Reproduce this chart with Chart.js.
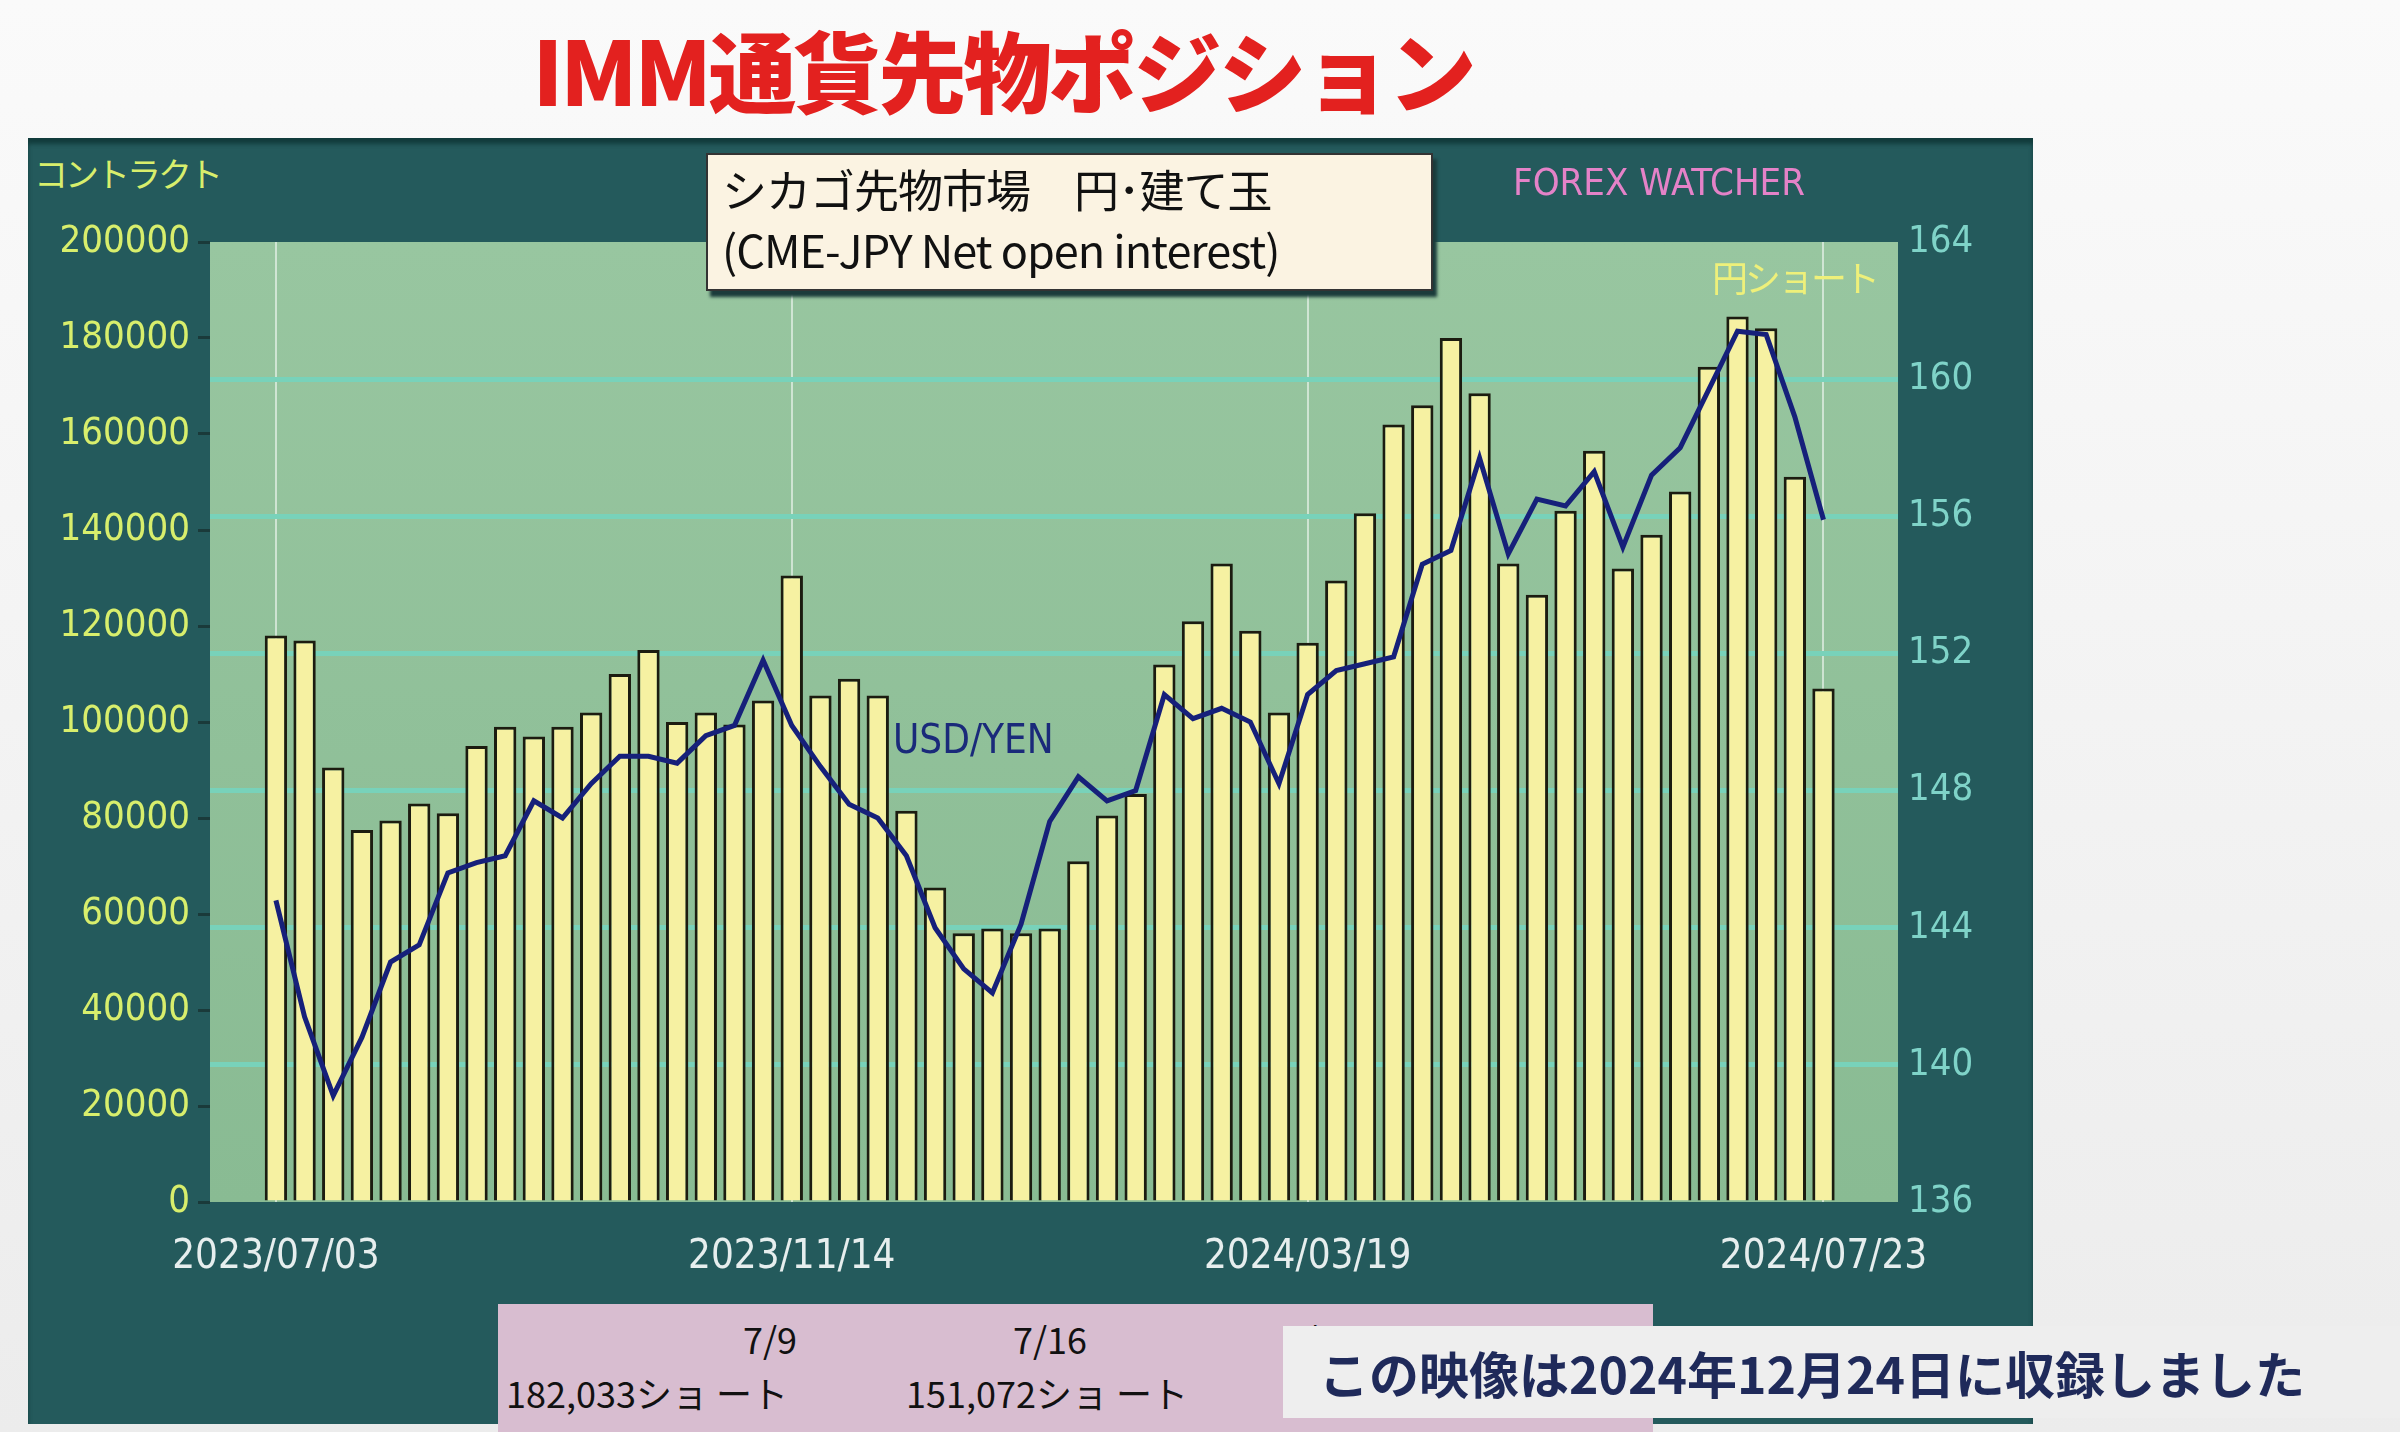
<!DOCTYPE html>
<html>
<head>
<meta charset="utf-8">
<script src="https://cdn.jsdelivr.net/npm/chart.js@4"></script>
<style>
	body { margin: 0; width: 2400px; height: 1432px; background: linear-gradient(#fafafa, #ececec); position: relative; overflow: hidden; font-family: "Noto Sans CJK JP", sans-serif; }
	.abs { position: absolute; white-space: nowrap; z-index: 2; }
	#panel { left: 28px; top: 138px; width: 2005px; height: 1286px; background: #245a5c; box-shadow: inset 0 6px 4px #123c3c; z-index: 0; }
	#title { left: 0; width: 2006px; top: 4px; text-align: center; color: #e3211f; font-weight: 900; font-size: 88px; letter-spacing: -3px; }
	#box { left: 706px; top: 153px; width: 727px; height: 138px; background: #fbf3e2; box-shadow: 4px 6px 3px #1b3b3b; border: 2px solid #333; box-sizing: border-box; font-size: 45px; line-height: 60px; padding: 4px 0 0 14px; color: #111; letter-spacing: -1px; }
	#pink { left: 498px; top: 1304px; width: 1155px; height: 128px; background: #d8bdd0; font-size: 36px; color: #111; }
	#note { left: 1283px; top: 1326px; width: 1117px; height: 92px; background: #eeeeee; font-size: 50px; font-weight: bold; color: #1f2a5a; line-height: 92px; padding-left: 36px; box-sizing: border-box; z-index: 3; }
	canvas { position: absolute; left: 28px; top: 200px; z-index: 1; }
</style>
</head>
<body>
<div id="panel" class="abs"></div>
<div id="title" class="abs">IMM通貨先物ポジション</div>
<div class="abs" style="left:34px;top:148px;font-size:34px;color:#d8ee6c;letter-spacing:-3px;">コントラクト</div>
<div class="abs" style="left:1513px;top:160px;font-size:38px;color:#e482c8;font-family:'Liberation Sans Narrow','DejaVu Sans Condensed',sans-serif;">FOREX WATCHER</div>
<div class="abs" style="left:1712px;top:250px;font-size:36px;color:#eef07a;letter-spacing:-3px;">円ショート</div>
<div class="abs" style="left:893px;top:716px;font-size:40px;color:#1a2a7a;font-family:'Liberation Sans Narrow','DejaVu Sans Condensed',sans-serif;">USD/YEN</div>
<div id="box" class="abs">シカゴ先物市場　円･建て玉<br>(CME-JPY Net open interest)</div>
<div id="pink" class="abs">
	<div class="abs" style="left:245px;top:8px;">7/9</div>
	<div class="abs" style="left:515px;top:8px;">7/16</div>
	<div class="abs" style="left:785px;top:8px;">7/23</div>
	<div class="abs" style="left:8px;top:62px;">182,033ショ ート</div>
	<div class="abs" style="left:408px;top:62px;">151,072ショ ート</div>
</div>
<div id="note" class="abs">この映像は2024年12月24日に収録しました</div>
<canvas id="c" width="2005" height="1100"></canvas>
<script>
// Weekly net yen short (contracts), 2023/07/03 - 2024/07/23
const shorts = [118000, 117000, 90500, 77500, 79500, 83000, 81000, 95000, 99000, 97000,
	99000, 102000, 110000, 115000, 100000, 102000, 99500, 104500, 130500, 105500,
	109000, 105500, 81500, 65500, 56000, 57000, 56000, 57000, 71000, 80500,
	85000, 112000, 121000, 133000, 119000, 102000, 116500, 129500, 143500, 162000,
	166000, 180000, 168500, 133000, 126500, 144000, 156500, 132000, 139000, 148000,
	174000, 184500, 182033, 151072, 107000];
// USD/JPY at each report date
const usdJpy = [144.8, 141.4, 139.1, 140.8, 143.0, 143.5, 145.6, 145.9, 146.1, 147.7,
	147.2, 148.2, 149.0, 149.0, 148.8, 149.6, 149.9, 151.8, 149.9, 148.7,
	147.6, 147.2, 146.1, 144.0, 142.8, 142.1, 144.1, 147.1, 148.4, 147.7,
	148.0, 150.8, 150.1, 150.4, 150.0, 148.2, 150.8, 151.5, 151.7, 151.9,
	154.6, 155.0, 157.7, 154.9, 156.5, 156.3, 157.3, 155.1, 157.2, 158.0,
	159.7, 161.4, 161.3, 158.9, 155.9];
const tickIndex = [0, 18, 36, 54];
const tickDates = ["2023/07/03", "2023/11/14", "2024/03/19", "2024/07/23"];

const narrow = "'Liberation Sans Narrow', 'DejaVu Sans Condensed', sans-serif";

const plotBackground = {
	id: "plotBackground",
	beforeDraw: function (chart) {
		const a = chart.chartArea;
		const ctx = chart.ctx;
		const g = ctx.createLinearGradient(0, a.top, 0, a.bottom);
		g.addColorStop(0, "#98c6a0");
		g.addColorStop(1, "#89bb93");
		ctx.save();
		ctx.fillStyle = g;
		ctx.fillRect(a.left, a.top, a.right - a.left, a.bottom - a.top);
		ctx.restore();
	},
};

new Chart(document.getElementById("c").getContext("2d"), {
	type: "bar",
	data: {
		datasets: [
			{
				type: "line",
				data: usdJpy.map((v, i) => ({ x: i, y: v })),
				yAxisID: "yr",
				borderColor: "#16207a",
				borderWidth: 5,
				pointRadius: 0,
				tension: 0,
				order: 0,
			},
			{
				data: shorts.map((v, i) => ({ x: i, y: v })),
				yAxisID: "y",
				backgroundColor: "#f6f1a2",
				borderColor: "#1c1c10",
				borderWidth: 3,
				borderSkipped: "bottom",
				barPercentage: 0.78,
				categoryPercentage: 1,
				order: 1,
			},
		],
	},
	options: {
		responsive: false,
		animation: false,
		layout: { padding: { top: 42, left: 0, right: 0, bottom: 0 } },
		plugins: { legend: { display: false }, tooltip: { enabled: false } },
		scales: {
			x: {
				type: "linear",
				min: -2.3,
				max: 56.6,
				offset: false,
				afterBuildTicks: function (axis) {
					axis.ticks = tickIndex.map((v) => ({ value: v }));
				},
				afterFit: function (axis) {
					axis.height = 98;
				},
				ticks: {
					color: "#e6eeee",
					font: { family: narrow, size: 40 },
					padding: 32,
					callback: function (value) {
						return tickDates[tickIndex.indexOf(value)];
					},
				},
				grid: { offset: false, color: "rgba(255,255,255,0.55)", lineWidth: 2, drawTicks: false },
				border: { display: false },
			},
			y: {
				position: "left",
				min: 0,
				max: 200000,
				ticks: {
					stepSize: 20000,
					color: "#d8ee6c",
					font: { family: narrow, size: 38 },
					padding: 8,
					callback: (v) => String(v),
				},
				afterFit: function (axis) {
					axis.width = 182;
				},
				grid: { drawOnChartArea: false, color: "#1a3a3a", tickLength: 12, lineWidth: 3 },
				border: { display: false },
			},
			yr: {
				position: "right",
				min: 136,
				max: 164,
				ticks: { stepSize: 4, color: "#7fd3c8", font: { family: narrow, size: 38 }, padding: 10 },
				afterFit: function (axis) {
					axis.width = 135;
				},
				grid: {
					color: (c) => (c.tick && (c.tick.value === 136 || c.tick.value === 164) ? "rgba(0,0,0,0)" : "#78d2ba"),
					lineWidth: 5,
					tickLength: 0,
				},
				border: { display: false },
			},
		},
	},
	plugins: [plotBackground],
});
</script>
</body>
</html>
